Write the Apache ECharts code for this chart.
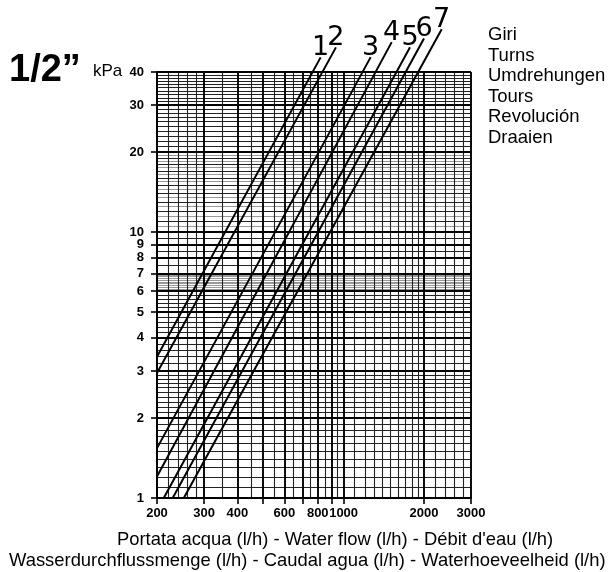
<!DOCTYPE html>
<html>
<head>
<meta charset="utf-8">
<script src="https://cdn.jsdelivr.net/npm/echarts@6/dist/echarts.min.js"></script>
<style>html,body{margin:0;padding:0;background:#fff}#c{width:608px;height:572px}</style>
</head>
<body>
<div id="c"></div>
<script>
// ---- data ----
const seriesNames = ['1', '2', '3', '4', '5', '6', '7'];
const flowStart = [200, 200, 200, 200, 212, 229, 252];
const kpaStart  = [3.40, 2.95, 1.54, 1.205, 1, 1, 1];
const flowEnd   = [820, 936, 1263, 1514, 1773, 2000, 2330];
const kpaEnd    = [45.4, 49.5, 45.5, 51.8, 49.6, 53.5, 57.9];

const xTickValues  = [200, 300, 400, 500, 600, 700, 800, 900, 1000, 2000, 3000];
const xLabelValues = [200, 300, 400, 600, 800, 1000, 2000, 3000];
const yTickValues  = [1, 2, 3, 4, 5, 6, 7, 8, 9, 10, 20, 30, 40];

const xMinorGrid = [220, 240, 260, 280, 350, 450, 550, 650, 750, 850, 950,
  1100, 1200, 1300, 1400, 1500, 1600, 1700, 1800, 1900, 2200, 2400, 2600, 2800];
const yMinorGrid = [1.1, 1.2, 1.3, 1.4, 1.5, 1.6, 1.7, 1.8, 1.9,
  2.1, 2.2, 2.3, 2.4, 2.5, 2.6, 2.7, 2.8, 2.9,
  3.2, 3.4, 3.6, 3.8, 4.2, 4.4, 4.6, 4.8,
  5.2, 5.4, 5.6, 5.8, 7.5, 8.5, 9.5,
  11, 12, 13, 14, 15, 16, 17, 18, 19,
  21, 22, 23, 24, 25, 26, 27, 28, 29,
  31, 32, 33, 34, 35, 36, 37, 38, 39];
const yLightGrid = [6.1, 6.2, 6.3, 6.4, 6.5, 6.6, 6.7, 6.8, 6.9,
  10.5, 11.5, 12.5, 13.5, 14.5, 15.5, 16.5, 17.5, 18.5, 19.5];

const legendLines = ['Giri', 'Turns', 'Umdrehungen', 'Tours', 'Revolución', 'Draaien'];
const xTitle1 = 'Portata acqua (l/h) - Water flow (l/h) - Débit d\'eau (l/h)';
const xTitle2 = 'Wasserdurchflussmenge (l/h) - Caudal agua (l/h) - Waterhoeveelheid (l/h)';

// ---- build options ----
const majorStyle = {color: '#000', width: 1.9, type: 'solid'};
const minorStyle = {color: '#222', width: 1.1, type: 'solid'};
const lightStyle = {color: '#999', width: 1, type: 'solid'};
const gridMarks = [];
yLightGrid.forEach(v => gridMarks.push({yAxis: v, lineStyle: lightStyle}));
xMinorGrid.forEach(v => gridMarks.push({xAxis: v, lineStyle: minorStyle}));
yMinorGrid.forEach(v => gridMarks.push({yAxis: v, lineStyle: minorStyle}));
xTickValues.forEach(v => gridMarks.push({xAxis: v, lineStyle: majorStyle}));
yTickValues.forEach(v => gridMarks.push({yAxis: v, lineStyle: majorStyle}));

const series = [{
  type: 'line', name: 'grid', data: [[200, 1]], symbol: 'none', silent: true, z: 1,
  lineStyle: {opacity: 0},
  markLine: {
    silent: true, symbol: ['none', 'none'], animation: false, z: 1,
    label: {show: false}, emphasis: {disabled: true},
    lineStyle: {type: 'solid'},
    data: gridMarks
  }
}];
seriesNames.forEach((n, i) => {
  series.push({
    type: 'line', name: n, z: 10, clip: false, symbol: 'none', silent: true,
    data: [[flowStart[i], kpaStart[i]], [flowEnd[i], kpaEnd[i]]],
    lineStyle: {color: '#000', width: 2},
    endLabel: {
      show: true, formatter: n, align: 'center', verticalAlign: 'bottom', distance: 0,
      offset: [0, 4],
      color: '#000', fontSize: 27, fontWeight: 'normal',
      fontFamily: "'Liberation Sans Narrow', 'DejaVu Sans', sans-serif"
    }
  });
});

const txt = (t, x, y, font, align) => ({
  type: 'text', x: x, y: y, silent: true,
  style: {text: t, font: font, fill: '#000', align: align || 'left', verticalAlign: 'middle'}
});
const graphics = [
  txt('1/2\u201D', 9, 71, "bold 38px 'Liberation Sans', Arial, sans-serif"),
  txt('kPa', 93, 71, "17px 'Liberation Sans', Arial, sans-serif"),
  txt(xTitle1, 117, 540, "18.4px 'Liberation Sans', Arial, sans-serif"),
  txt(xTitle2, 9, 561, "18.4px 'Liberation Sans', Arial, sans-serif")
];
legendLines.forEach((t, i) => graphics.push(txt(t, 488, 35 + i * 20.6, "18.5px 'Liberation Sans', Arial, sans-serif")));

const labelFont = {color: '#000', fontFamily: "'Liberation Sans', Arial, sans-serif", fontWeight: 'bold', fontSize: 13, hideOverlap: false};

const chart = echarts.init(document.getElementById('c'), null, {renderer: 'canvas'});
chart.setOption({
  animation: false,
  backgroundColor: '#fff',
  grid: {left: 157, top: 72, width: 314, height: 426, containLabel: false, outerBoundsMode: 'none'},
  xAxis: {
    type: 'log', logBase: 10, min: 200, max: 3000,
    axisLine: {show: true, onZero: false, lineStyle: {color: '#000', width: 1.9}},
    axisTick: {show: true, customValues: xTickValues, length: 6, lineStyle: {color: '#000', width: 1.6}},
    axisLabel: Object.assign({customValues: xLabelValues, margin: 9, formatter: v => String(Math.round(v))}, labelFont),
    splitLine: {show: false}, minorTick: {show: false}, minorSplitLine: {show: false}
  },
  yAxis: {
    type: 'log', logBase: 10, min: 1, max: 40,
    axisLine: {show: true, onZero: false, lineStyle: {color: '#000', width: 1.9}},
    axisTick: {show: true, customValues: yTickValues, length: 6, lineStyle: {color: '#000', width: 1.6}},
    axisLabel: Object.assign({customValues: yTickValues, margin: 13, formatter: v => String(Math.round(v))}, labelFont),
    splitLine: {show: false}, minorTick: {show: false}, minorSplitLine: {show: false}
  },
  graphic: graphics,
  series: series
});
</script>
</body>
</html>
